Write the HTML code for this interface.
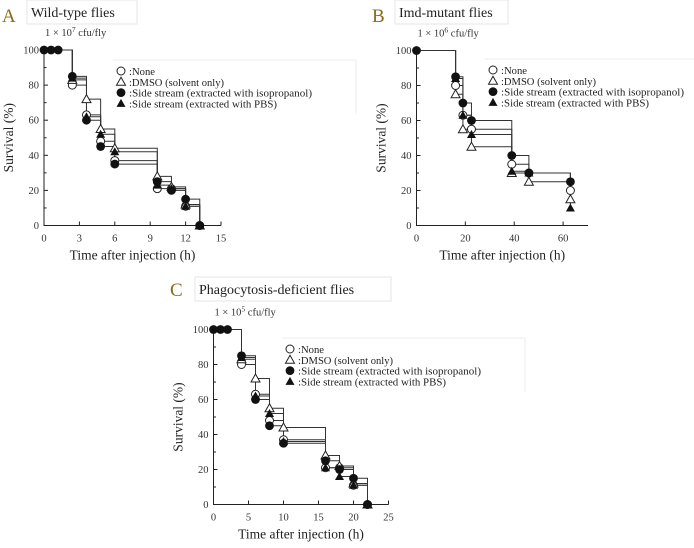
<!DOCTYPE html>
<html><head><meta charset="utf-8">
<style>
body{margin:0;background:#fff;width:694px;height:548px;overflow:hidden;font-family:"Liberation Serif",serif;}
svg{position:absolute;left:0;top:0}
text{font-family:"Liberation Serif",serif;fill:#333}
</style></head>
<body>
<svg id="chart" width="694" height="548"></svg>
<script>
// Panel A data
const timesA = [0, 2.4, 3.6, 4.8, 6, 9.6, 10.8, 12, 13.2];
const earlyA = [0, 0.6, 1.2];
const noneA = [100, 80, 63, 48, 37, 21, 21, 11, 0];
const dmsoA = [100, 83, 72, 55, 44, 28, 22, 12, 0];
const isoA  = [100, 85, 60, 45, 35, 25, 20, 15, 0];
const pbsA  = [100, 84, 62, 52, 42, 23, 21, 11, 0];
const xTicksA = [0, 3, 6, 9, 12, 15];
// Panel B data
const timesB = [0, 16, 19, 22.5, 39, 46, 63];
const earlyB = [0];
const noneB = [100, 80, 63, 55, 35, 30, 20];
const dmsoB = [100, 75, 55, 45, 30, 25, 15];
const isoB  = [100, 85, 70, 60, 40, 30, 25];
const pbsB  = [100, 84, 63, 52, 31, 30, 10];
const xTicksB = [0, 20, 40, 60];
// Panel C data
const timesC = [0, 4, 6, 8, 10, 16, 18, 20, 22];
const earlyC = [0, 1, 2];
const noneC = [100, 80, 63, 48, 37, 21, 21, 11, 0];
const dmsoC = [100, 83, 72, 55, 44, 28, 22, 12, 0];
const isoC  = [100, 85, 60, 45, 35, 25, 20, 15, 0];
const pbsC  = [100, 84, 62, 52, 36, 21, 16, 11, 0];
const xTicksC = [0, 5, 10, 15, 20, 25];
const yTicks = [0, 20, 40, 60, 80, 100];
const legendLabels = [":None", ":DMSO (solvent only)", ":Side stream (extracted with isopropanol)", ":Side stream (extracted with PBS)"];
const legendWidths = [26, 95, 183, 148];

const NS = "http://www.w3.org/2000/svg";
const svg = document.getElementById('chart');
function mk(tag, attrs, parent, text){
  const e = document.createElementNS(NS, tag);
  for (const k in attrs) e.setAttribute(k, attrs[k]);
  if (text !== undefined) e.textContent = text;
  (parent || svg).appendChild(e);
  return e;
}
function marker(g, kind, x, y){
  let m;
  if (kind === 0) m = mk('circle', {cx:x, cy:y, r:4, fill:'#fff', stroke:'#222', 'stroke-width':1}, g);
  else if (kind === 1) m = mk('path', {d:`M${x},${y-4.5} L${x+4.5},${y+3.5} L${x-4.5},${y+3.5} Z`, fill:'#fff', stroke:'#222', 'stroke-width':1}, g);
  else if (kind === 2) m = mk('circle', {cx:x, cy:y, r:4.4, fill:'#111'}, g);
  else m = mk('path', {d:`M${x},${y-4.5} L${x+4.5},${y+3.5} L${x-4.5},${y+3.5} Z`, fill:'#111'}, g);
  return m;
}
function panel(cfg){
  const g = mk('g', {});
  
  
  const X = t => cfg.x0 + t * (cfg.x1 - cfg.x0) / cfg.xmax;
  const Y = v => cfg.y0 - v * (cfg.y0 - cfg.y100) / 100;
  const L = mk('text', {x:cfg.lx, y:cfg.ly, 'font-size':19, style:'fill:#8a6a1a'}, g, cfg.letter);
   
  const tb = mk('rect', {x:cfg.tbx, y:cfg.tby, width:cfg.tbw, height:24, fill:'#fff', stroke:'#e4e4e4'}, g);
   
  const tt = mk('text', {x:cfg.tbx + 4, y:cfg.tby + 17, 'font-size':14, style:'fill:#222'}, g, cfg.title);
   
  const dose = mk('text', {x:cfg.x0 + 1, y:cfg.y100 - 14, 'font-size':10.5}, g);
   
  dose.innerHTML = '1 \u00d7 10<tspan dy="-4" font-size="7.5">' + cfg.exp + '</tspan><tspan dy="4"> cfu/fly</tspan>';
  mk('path', {d:`M${cfg.legx-8},${cfg.legy-14} H${cfg.legx+235} V${cfg.legy+40}`, fill:'none', stroke:'#eee'}, g);
  const ax = mk('path', {d:`M${cfg.x0},${cfg.y100-2} V${cfg.y0} H${cfg.x1}`, fill:'none', stroke:'#222', 'stroke-width':1}, g);
   
  for (let v = 0; v <= 100; v += 10){
    mk('line', {x1:cfg.x0, x2:cfg.x0 + (v % 20 === 0 ? 4 : 2.5), y1:Y(v), y2:Y(v), stroke:'#222'}, g);
  }
  yTicks.forEach(v => {
    const t = mk('text', {x:cfg.x0 - 5, y:Y(v) + 3.5, 'font-size':10.5, 'text-anchor':'end'}, g, v);
     
  });
  cfg.xTicks.forEach(v => {
    mk('line', {x1:X(v), x2:X(v), y1:cfg.y0, y2:cfg.y0 - 4, stroke:'#222'}, g);
    const t = mk('text', {x:X(v), y:cfg.y0 + 16, 'font-size':10.5, 'text-anchor':'middle'}, g, v);
     
  });
  const xt = mk('text', {x:(cfg.x0 + cfg.x1) / 2, y:cfg.y0 + 34, 'font-size':13.5, 'text-anchor':'middle', style:'fill:#222'}, g, 'Time after injection (h)');
   
  const yc = (cfg.y0 + cfg.y100) / 2;
  const yt = mk('text', {x:cfg.x0 - 31, y:yc, 'font-size':13.5, 'text-anchor':'middle', transform:`rotate(-90 ${cfg.x0 - 31} ${yc})`, style:'fill:#222'}, g, 'Survival (%)');
   
  const names = ['none', 'dmso', 'isopropanol', 'pbs'];
  cfg.series.forEach((vals, si) => {
    let d = `M${X(cfg.times[0])},${Y(vals[0])}`;
    for (let i = 1; i < cfg.times.length; i++){
      d += ` H${X(cfg.times[i])} V${Y(vals[i])}`;
    }
    const p = mk('path', {d:d, fill:'none', stroke:'#333', 'stroke-width':1}, g);
    
    
  });
  cfg.series.forEach((vals, si) => {
    for (let i = 1; i < cfg.times.length; i++){
      const m = marker(g, si, X(cfg.times[i]), Y(vals[i]));
      
      
    }
  });
  cfg.early.forEach(t => {
    const m = marker(g, 2, X(t), Y(100));
    
    
  });
  legendLabels.forEach((lab, i) => {
    const ly = cfg.legy + i * 10.8;
    marker(g, i, cfg.legx, ly - 3);
    const t = mk('text', {x:cfg.legx + 8, y:ly + 1, 'font-size':11, textLength:legendWidths[i], lengthAdjust:'spacingAndGlyphs', style:'fill:#222'}, g, lab);
     
  });
}
panel({id:'a', letter:'A', title:'Wild-type flies', exp:'7', lx:2, ly:22, tbx:27, tby:0, tbw:110,
  x0:44, x1:221, xmax:15, y0:225.5, y100:50, xTicks:xTicksA, times:timesA, early:earlyA,
  series:[noneA, dmsoA, isoA, pbsA], legx:121, legy:74});
panel({id:'b', letter:'B', title:'Imd-mutant flies', exp:'6', lx:372, ly:22, tbx:395, tby:0, tbw:113,
  x0:416.5, x1:588, xmax:70.2, y0:225.5, y100:50.5, xTicks:xTicksB, times:timesB, early:earlyB,
  series:[noneB, dmsoB, isoB, pbsB], legx:493, legy:73});
panel({id:'c', letter:'C', title:'Phagocytosis-deficient flies', exp:'5', lx:170, ly:296, tbx:195, tby:277, tbw:196,
  x0:213.5, x1:388.5, xmax:25, y0:504.5, y100:329.5, xTicks:xTicksC, times:timesC, early:earlyC,
  series:[noneC, dmsoC, isoC, pbsC], legx:290, legy:352});
</script>
</body></html>
